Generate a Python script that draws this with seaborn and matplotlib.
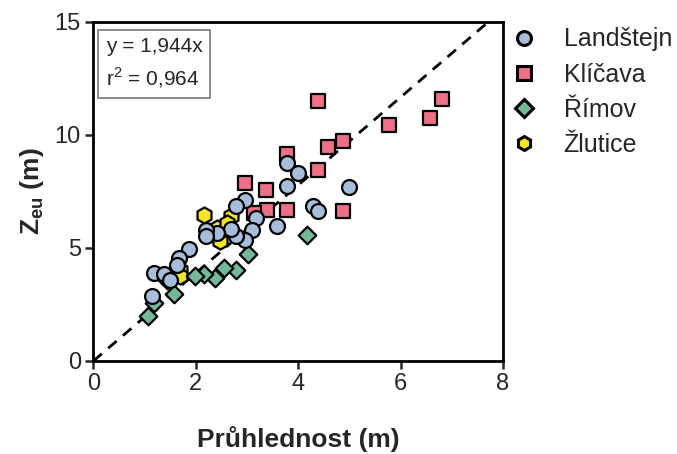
import numpy as np
import pandas as pd
import matplotlib
matplotlib.use("Agg")
import matplotlib.pyplot as plt
import seaborn as sns
from matplotlib.lines import Line2D

# ── data ──────────────────────────────────────────────────────────────────────

lakes = ["Landštejn", "Klíčava", "Římov", "Žlutice"]

landstejn_x = [3.79, 3.99, 3.79, 4.99, 4.28, 4.38, 3.59, 3.17, 3.10, 2.97, 2.78, 2.97,
               2.78, 2.68, 2.42, 2.19, 2.19, 1.86, 1.67, 1.63, 1.18, 1.37, 1.50, 1.14]
landstejn_y = [8.75, 8.31, 7.72, 7.68, 6.84, 6.65, 5.96, 6.32, 5.81, 7.13, 6.85, 5.37,
               5.51, 5.84, 5.66, 5.81, 5.51, 4.96, 4.56, 4.26, 3.90, 3.85, 3.60, 2.87]

klicava_x = [4.38, 6.80, 6.58, 5.78, 4.87, 4.58, 3.79, 4.38, 2.97, 3.38, 3.40, 3.78, 4.87, 3.14]
klicava_y = [11.49, 11.57, 10.74, 10.44, 9.71, 9.44, 9.16, 8.46, 7.87, 7.54, 6.69, 6.69, 6.65, 6.55]

rimov_x = [4.18, 3.01, 2.78, 2.55, 2.37, 2.16, 1.98, 1.57, 1.18, 1.07, 1.44]
rimov_y = [5.59, 4.71, 4.04, 4.12, 3.68, 3.84, 3.75, 2.94, 2.57, 1.99, 3.60]

zlutice_x = [2.16, 2.68, 2.42, 2.48, 1.70, 1.70, 2.60]
zlutice_y = [6.47, 6.40, 5.90, 5.29, 4.04, 3.75, 6.10]

slope = 1.944
r2 = 0.964

colors = {"Landštejn": "#a6bedb", "Klíčava": "#ee6f88",
          "Římov": "#72b997", "Žlutice": "#f3e426"}
markers = {"Landštejn": "o", "Klíčava": "s", "Římov": "D", "Žlutice": "h"}
sizes = {"Landštejn": 115, "Klíčava": 105, "Římov": 80, "Žlutice": 135}

# draw order: squares first, then hexagons, diamonds, circles on top
draw_order = [("Klíčava", klicava_x, klicava_y), ("Žlutice", zlutice_x, zlutice_y),
              ("Římov", rimov_x, rimov_y), ("Landštejn", landstejn_x, landstejn_y)]

# ── style ─────────────────────────────────────────────────────────────────────

sns.set_theme(style="ticks")
plt.rcParams["font.family"] = ["Liberation Sans", "DejaVu Sans"]
plt.rcParams["mathtext.fontset"] = "custom"
plt.rcParams["mathtext.rm"] = "Liberation Sans"
plt.rcParams["mathtext.bf"] = "Liberation Sans:bold"

fig = plt.figure(figsize=(6.77, 4.54), dpi=100)
ax = fig.add_axes([0.138, 0.205, 0.605, 0.747])

for lake, xs, ys in draw_order:
    df = pd.DataFrame({"x": xs, "y": ys, "lake": lake})
    sns.scatterplot(data=df, x="x", y="y", marker=markers[lake], color=colors[lake],
                    s=sizes[lake], edgecolor="black", linewidth=1.6, ax=ax,
                    legend=False, zorder=3)

# regression line through origin
x_line = np.array([0, 15 / slope])
ax.plot(x_line, slope * x_line, color="black", ls=(0, (4, 3)), lw=2, zorder=2)

ax.set_xlim(0, 8)
ax.set_ylim(0, 15)
ax.set_xticks([0, 2, 4, 6, 8])
ax.set_yticks([0, 5, 10, 15])
ax.tick_params(direction="out", length=6, width=1.8, labelsize=17, pad=3,
               labelcolor="#262626")
for sp in ax.spines.values():
    sp.set_linewidth(2)
    sp.set_color("black")

ax.set_xlabel("Průhlednost (m)", fontsize=19, fontweight="bold", labelpad=22)
ax.set_ylabel(r"$\mathbf{Z_{eu}}$ (m)", fontsize=19, fontweight="bold", labelpad=6)

ax.text(0.03, 0.955, f"y = {slope:.3f}x".replace(".", ",") + "\n" +
        r"r$^2$" + f" = {r2:.3f}".replace(".", ","),
        transform=ax.transAxes, ha="left", va="top", fontsize=15, linespacing=1.45,
        color="#262626",
        bbox=dict(boxstyle="square,pad=0.38", fc="white", ec="#777777", lw=1.2), zorder=5)

# legend outside on the right
handles = [Line2D([], [], ls="", marker=markers[k], markerfacecolor=colors[k],
                  markeredgecolor="black", markeredgewidth=2.2,
                  markersize=10 if k != "Římov" else 9) for k in lakes]
ax.legend(handles, lakes, loc="upper left", bbox_to_anchor=(0.965, 1.05), frameon=False,
          fontsize=18, handletextpad=1.1, labelspacing=0.45, handlelength=1.0,
          labelcolor="#262626")

fig.savefig("out.png", dpi=100)
